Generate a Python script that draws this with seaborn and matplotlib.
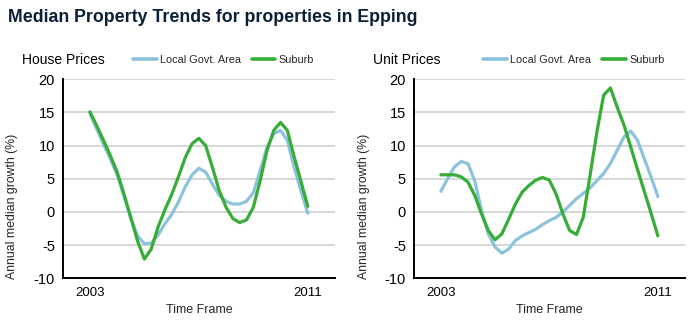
import matplotlib
matplotlib.use("Agg")
import matplotlib.pyplot as plt
import seaborn as sns
import pandas as pd
import numpy as np

# ---- data (quarter-year samples 2003..2011) ----
years = [2003 + 0.25 * i for i in range(33)]

house_lga = [14.8, 12.5, 10.2, 8.0, 5.6, 2.4, -1.0, -3.6, -4.8, -4.7, -3.5, -1.8,
             -0.4, 1.5, 3.8, 5.6, 6.6, 6.0, 4.2, 2.5, 1.6, 1.2, 1.2, 1.6,
             2.9, 6.2, 9.7, 11.8, 12.3, 10.8, 6.7, 3.2, -0.2]
house_suburb = [15.1, 13.0, 10.8, 8.5, 6.0, 2.7, -0.8, -4.4, -7.1, -5.6, -2.3, 0.3,
                2.6, 5.3, 8.2, 10.3, 11.1, 10.0, 6.7, 3.2, 0.7, -1.0, -1.6, -1.2,
                0.7, 4.7, 9.2, 12.3, 13.5, 12.3, 8.3, 4.6, 0.85]
unit_lga = [3.1, 5.0, 6.8, 7.6, 7.3, 4.7, 0.2, -3.3, -5.3, -6.2, -5.6, -4.3,
            -3.6, -3.1, -2.6, -1.9, -1.3, -0.8, 0.0, 1.0, 2.0, 2.8, 3.6, 4.7,
            5.8, 7.3, 9.3, 11.3, 12.2, 10.8, 8.0, 5.3, 2.3]
unit_suburb = [5.6, 5.6, 5.6, 5.3, 4.5, 2.5, -0.3, -2.8, -4.2, -3.3, -1.1, 1.2,
               3.0, 4.0, 4.8, 5.2, 4.8, 2.7, -0.3, -2.8, -3.4, -0.8, 5.5, 12.0,
               17.6, 18.7, 15.8, 13.1, 9.8, 6.4, 3.1, -0.2, -3.6]

series_names = ["Local Govt. Area", "Suburb"]
panel_titles = ["House Prices", "Unit Prices"]
main_title = "Median Property Trends for properties in Epping"
x_label = "Time Frame"
y_label = "Annual median growth (%)"
year_ticks = list(range(2003, 2013))
year_labels = ["2003", "", "", "", "", "", "", "", "2011", ""]
y_ticks = [-10, -5, 0, 5, 10, 15, 20]

def long_df(lga, sub):
    return pd.DataFrame({
        "year": years * 2,
        "growth": lga + sub,
        "series": [series_names[0]] * len(years) + [series_names[1]] * len(years),
    })

frames = [long_df(house_lga, house_suburb), long_df(unit_lga, unit_suburb)]

sns.set_theme(style="white")
plt.rcParams["font.family"] = ["Liberation Sans", "DejaVu Sans"]

W, H = 694, 329
fig = plt.figure(figsize=(W / 100, H / 100), dpi=100)
fig.patch.set_facecolor("white")

palette = {series_names[0]: "#8cc3dc", series_names[1]: "#36ad36"}

ax_px = [(62.7, 335.0), (413.7, 685.0)]
top_px, bot_px = 79.3, 278.3

for i, (df, (x0, x1)) in enumerate(zip(frames, ax_px)):
    ax = fig.add_axes([x0 / W, 1 - bot_px / H, (x1 - x0) / W, (bot_px - top_px) / H])
    ax.set_facecolor("white")
    for y in y_ticks[1:]:
        ax.axhline(y, color="#d4d4d4", lw=1.3, zorder=0)
    sns.lineplot(data=df, x="year", y="growth", hue="series", palette=palette,
                 lw=2.3, ax=ax, legend=False, sort=True, zorder=3)
    for ln in ax.lines:
        ln.set_solid_joinstyle("round")
        ln.set_solid_capstyle("round")
    ax.set_xlim(2002.0, 2012.0)
    ax.set_ylim(-10, 20)
    ax.set_xticks(year_ticks)
    ax.set_xticklabels(year_labels, fontsize=9.5)
    ax.set_yticks(y_ticks)
    ax.set_yticklabels([str(v) for v in y_ticks], fontsize=10.5)
    ax.tick_params(axis="both", direction="out", length=4, width=1.2, color="black",
                   pad=1.5, labelcolor="black")
    ax.tick_params(axis="x", pad=2)
    for s in ["top", "right"]:
        ax.spines[s].set_visible(False)
    for s in ["left", "bottom"]:
        ax.spines[s].set_color("black")
        ax.spines[s].set_linewidth(1.4)
    ax.set_xlabel(x_label, fontsize=9, labelpad=4)
    ax.set_ylabel("")
    ax.text(-0.185, 0.36, y_label, transform=ax.transAxes, rotation=90,
            ha="center", va="center", fontsize=8.8)
    handles = [plt.Line2D([], [], color=palette[n], lw=2.6) for n in series_names]
    ax.legend(handles, series_names, loc="center", bbox_to_anchor=(0.59, 1.097),
              ncol=2, frameon=False, fontsize=7.8, handlelength=2.2,
              handletextpad=0.3, columnspacing=1.0, borderaxespad=0)
    fig.text((x0 - 41) / W, 1 - 60 / H, panel_titles[i], fontsize=10,
             ha="left", va="center", color="black")

fig.text(8 / W, 1 - 17 / H, main_title, fontsize=12.8, fontweight="bold",
         color="#0b2038", ha="left", va="center")

fig.savefig("out.png", dpi=100, facecolor="white")
